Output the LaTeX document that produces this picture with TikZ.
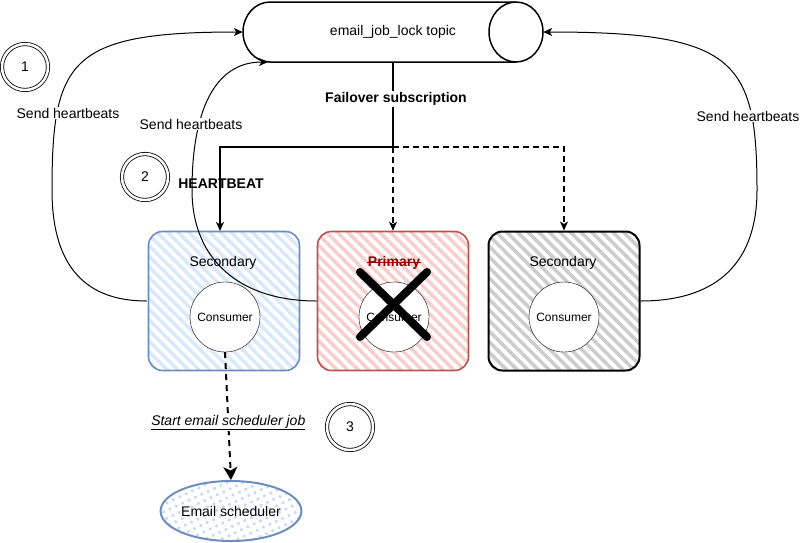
\documentclass[tikz,border=0pt]{standalone}
\usepackage{fontspec}
\setmainfont{Liberation Sans}
\usetikzlibrary{arrows.meta,patterns.meta,shapes.geometric,calc}
\definecolor{bstroke}{HTML}{6C8EBF}
\definecolor{bfill}{HTML}{DAE8FC}
\definecolor{bdot}{HTML}{C6DAF5}
\definecolor{rstroke}{HTML}{B85450}
\definecolor{rfill}{HTML}{F8CECC}
\definecolor{gfill}{HTML}{CCCCCC}
\definecolor{primred}{HTML}{990000}
\begin{document}
\begin{tikzpicture}[x=1pt,y=-1pt,
  font=\fontsize{14pt}{16pt}\selectfont,
  tip/.style={-{Stealth[length=9pt,width=8pt,inset=2.5pt]}},
  dsh/.style={dash pattern=on 6pt off 4pt, line width=1.5pt},
  box/.style={rounded corners=14pt, minimum width=151pt, minimum height=139pt, inner sep=0pt, line width=1.6pt},
  cons/.style={circle, draw, fill=white, minimum size=70pt, inner sep=0pt, font=\fontsize{12pt}{14pt}\selectfont},
  num/.style={circle, draw, double, double distance=2.5pt, line width=0.8pt, minimum size=46pt, inner sep=0pt},
  lbl/.style={fill=white, inner sep=1pt},
  hb/.style={tip, line width=1pt},
  hatch/.style={pattern={Lines[angle=-45,distance=7.5pt,line width=3.5pt]}, pattern color=#1}
]
\useasboundingbox (0,0) rectangle (800,542);

% topic cylinder
\fill[white] (270,2) -- (516,2) -- (516,62) -- (270,62) arc[start angle=270,end angle=90,x radius=27pt,y radius=30pt];
\draw[line width=1.5pt] (516,2) -- (270,2) arc[start angle=90,end angle=270,x radius=27pt,y radius=30pt] -- (516,62);
\draw[line width=1.5pt, fill=white] (516,32) ellipse[x radius=27pt,y radius=30pt];
\node[minimum width=300pt, minimum height=60pt, inner sep=0pt] (topic) at (393,32) {email\_job\_lock topic};
\coordinate (tin) at (268,62);

% boxes
\node[box, draw=bstroke, hatch=bfill] (b1) at (224,301) {};
\node[box, draw=rstroke, hatch=rfill] (b2) at (393,301) {};
\node[box, draw=black, line width=2pt, hatch=gfill] (b3) at (564,301) {};

\node (s1) at (223,263) {Secondary};
\node[text=primred, font=\fontsize{14pt}{16pt}\selectfont\bfseries] (s2) at (394,263) {Primary};
\draw[primred, line width=1.3pt] ($(s2.west)+(3pt,0.5pt)$) -- ($(s2.east)+(-3pt,0.5pt)$);
\node (s3) at (563,263) {Secondary};

\node[cons] (c1) at (225,317) {Consumer};
\node[cons] (c2) at (394,317) {Consumer};
\node[cons] (c3) at (564,317) {Consumer};

% X over primary
\draw[line width=8pt, line cap=round] (360,272) -- (427,337);
\draw[line width=8pt, line cap=round] (427,272) -- (360,337);

% heartbeat curves
\draw[hb] (b1.west) .. controls (80,301) and (52,260) .. (52,190) .. controls (52,60) and (70,32) .. (topic.west);
\draw[hb] (b2.west) .. controls (240,301) and (192,260) .. (192,190) .. controls (192,110) and (215,62) .. (tin);
\draw[hb] (b3.east) .. controls (720,301) and (757,260) .. (757,190) .. controls (757,60) and (735,32) .. (topic.east);

\node[lbl] (l1) at (68,113) {Send heartbeats};
\node[lbl] (l2) at (191,124) {Send heartbeats};
\node[lbl] (l3) at (748,116) {Send heartbeats};

% subscription lines
\coordinate (j) at (393,147);
\coordinate (a1) at (220,231);
\draw[line width=1.8pt, tip] (topic.south) -- (j) -| (a1);
\draw[dsh] (topic.south) -- (j);
\draw[dsh, tip] (j) -- (b2.north);
\draw[dsh, tip] (j) -| (b3.north);
\node[lbl, font=\fontsize{14pt}{16pt}\selectfont\bfseries] (fs) at (396,99) {Failover subscription};
\node[font=\fontsize{14pt}{16pt}\selectfont\bfseries] (hbt) at (221,184) {HEARTBEAT};

% numbers
\node[num] (n1) at (25,67) {1};
\node[num] (n2) at (145,177) {2};
\node[num] (n3) at (350,427) {3};

% email scheduler
\node[ellipse, draw=bstroke, line width=2pt, pattern={Dots[radius=1.8pt,distance=7pt,angle=25]}, pattern color=bdot, minimum width=122pt, minimum height=60pt, inner sep=0pt] (es) at (231,511) {Email scheduler};
\draw[dash pattern=on 6pt off 5pt, line width=2pt, -{Stealth[length=13pt,width=14pt,inset=3.5pt]}] (c1.south) -- (es.north)
  node[lbl, pos=0.55, font=\fontsize{14pt}{16pt}\selectfont\itshape] (sj) {\underline{Start email scheduler job}};
\end{tikzpicture}
\end{document}
